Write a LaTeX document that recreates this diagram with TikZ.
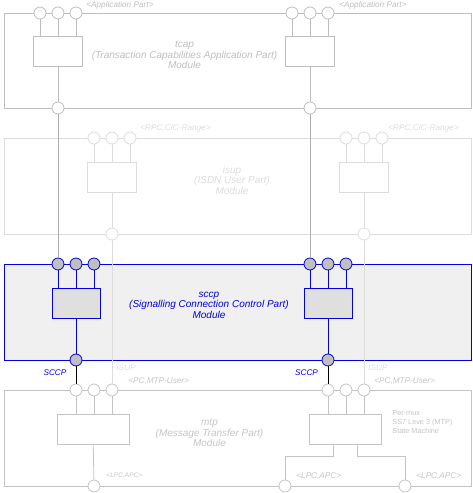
\documentclass[tikz,border=0pt]{standalone}
\usepackage{fontspec}
\setmainfont{Liberation Sans}
\definecolor{tcapc}{HTML}{BEBEBE}
\definecolor{isupc}{HTML}{DCDCDC}
\definecolor{mtpc}{HTML}{C4C4C4}
\definecolor{linkc}{HTML}{ADADAD}
\definecolor{sccpc}{HTML}{0000E6}
\definecolor{sccpfill}{HTML}{F0F0F0}
\definecolor{sccpbox}{HTML}{DFDFDF}
\definecolor{sccpport}{HTML}{C0C0C0}
\tikzset{
  modbox/.style={draw, rectangle, minimum width=467pt, inner sep=0pt},
  inbox/.style={draw, rectangle, minimum height=30pt, inner sep=0pt},
  port/.style={draw, circle, minimum size=12pt, inner sep=0pt, fill=white},
  modtext/.style={font=\fontsize{10}{10.5}\selectfont\itshape, align=center},
  lbl/.style={font=\fontsize{8.2}{9}\selectfont\itshape, anchor=west, inner sep=0pt},
}
\begin{document}
\begin{tikzpicture}[x=1pt,y=-1pt, line width=0.8pt]
\useasboundingbox (0,0) rectangle (472,493);
% ---------- modules ----------
\node[modbox, draw=tcapc, minimum height=95pt] (tcap) at (237.5,60.5) {};
\node[modbox, draw=isupc, minimum height=96pt] (isup) at (237.5,186) {};
\node[modbox, draw=sccpc, fill=sccpfill, minimum height=96pt] (sccp) at (237.5,312) {};
\node[modbox, draw=mtpc, minimum height=96pt] (mtp) at (237.5,438) {};
% ---------- module texts ----------
\node[modtext, text=tcapc] (tcapt) at (184.5,55) {tcap\\(Transaction Capabilities Application Part)\\Module};
\node[modtext, text=isupc] (isupt) at (232,180) {isup\\(ISDN User Part)\\Module};
\node[modtext, text=sccpc] (sccpt) at (209,305) {sccp\\(Signalling Connection Control Part)\\Module};
\node[modtext, text=mtpc] (mtpt) at (209.5,433) {mtp\\(Message Transfer Part)\\Module};
\node[font=\fontsize{7.3}{8.6}\selectfont, align=left, text=mtpc, anchor=west, inner sep=0pt] (mtpsm) at (392,422) {Per-mux\\SS7 Leve 3 (MTP)\\State Machine};
% ---------- inner boxes ----------
\node[inbox, draw=tcapc, minimum width=49pt] (tb1) at (58,51) {};
\node[inbox, draw=tcapc, minimum width=49pt] (tb2) at (310,51) {};
\node[inbox, draw=isupc, minimum width=49pt] (ib1) at (112,177) {};
\node[inbox, draw=isupc, minimum width=49pt] (ib2) at (364,177) {};
\node[inbox, draw=sccpc, fill=sccpbox, minimum width=48pt] (sb1) at (76,303) {};
\node[inbox, draw=sccpc, fill=sccpbox, minimum width=48pt] (sb2) at (328,303) {};
\node[inbox, draw=mtpc, minimum width=72pt] (mb1) at (93,429) {};
\node[inbox, draw=mtpc, minimum width=72pt] (mb2) at (345,429) {};
% ---------- internal wiring ----------
\begin{scope}[draw=tcapc]
\foreach \x in {40,58,76} \draw (\x,13) -- (\x,36);
\foreach \x in {292,310,328} \draw (\x,13) -- (\x,36);
\end{scope}
% ---------- ports ----------
\foreach \n/\x in {a/40,b/58,c/76,d/292,e/310,f/328} \node[port, draw=tcapc] (tt\n) at (\x,13) {};
\foreach \n/\x in {a/58,b/310} \node[port, draw=tcapc] (tu\n) at (\x,108) {};
\foreach \n/\x in {a/94,b/112,c/130,d/346,e/364,f/382} \node[port, draw=isupc] (it\n) at (\x,138) {};
\foreach \n/\x in {a/112,b/364} \node[port, draw=isupc] (iu\n) at (\x,234) {};
\foreach \n/\x in {a/58,b/76,c/94,d/310,e/328,f/346} \node[port, draw=sccpc, fill=sccpport] (st\n) at (\x,264) {};
\foreach \n/\x in {a/76,b/328} \node[port, draw=sccpc, fill=sccpport] (su\n) at (\x,360) {};
\foreach \n/\x in {a/76,b/94,c/112,d/328,e/346,f/364} \node[port, draw=mtpc] (mt\n) at (\x,390) {};
\foreach \n/\x in {a/94,b/285,c/405} \node[port, draw=mtpc] (mu\n) at (\x,486) {};
% ---------- port-to-box wiring ----------
\begin{scope}[draw=isupc]
\foreach \n in {a,b,c} \draw (it\n) -- (it\n |- ib1.north);
\foreach \n in {d,e,f} \draw (it\n) -- (it\n |- ib2.north);
\draw (ib1) -- (iua); \draw (ib2) -- (iub);
\end{scope}
\begin{scope}[draw=tcapc]
\draw (tb1) -- (tua); \draw (tb2) -- (tub);
\end{scope}
\begin{scope}[draw=sccpc]
\foreach \n in {a,b,c} \draw (st\n) -- (st\n |- sb1.north);
\foreach \n in {d,e,f} \draw (st\n) -- (st\n |- sb2.north);
\draw (sb1) -- (sua); \draw (sb2) -- (sub);
\end{scope}
\begin{scope}[draw=mtpc]
\foreach \n in {a,b,c} \draw (mt\n) -- (mt\n |- mb1.north);
\foreach \n in {d,e,f} \draw (mt\n) -- (mt\n |- mb2.north);
\draw (mb1) -- (mua);
\draw ([xshift=-12pt]mb2.south) -- ++(0,12) -| (mub);
\draw ([xshift=12pt]mb2.south) -- ++(0,12) -| (muc);
\end{scope}
% ---------- inter-module connectors ----------
\draw[draw=linkc] (tua) -- (sta);
\draw[draw=linkc] (tub) -- (std);
\draw[draw=isupc] (iua) -- (mtc);
\draw[draw=isupc] (iub) -- (mtf);
\draw[draw=black] (sua) -- (mta);
\draw[draw=black] (sub) -- (mtd);
% ---------- labels ----------
\node[lbl, text=tcapc] (l1) at (86,5) {<Application Part>};
\node[lbl, text=tcapc] (l2) at (339,5) {<Application Part>};
\node[lbl, text=isupc] (l3) at (140,128) {<RPC,CIC-Range>};
\node[lbl, text=isupc] (l4) at (388,128) {<RPC,CIC-Range>};
\node[lbl, text=sccpc, anchor=center] (l5) at (55,373) {SCCP};
\node[lbl, text=sccpc, anchor=center] (l6) at (306.5,373) {SCCP};
\node[lbl, text=isupc] (l7) at (116,368) {ISUP};
\node[lbl, text=isupc] (l8) at (368,368) {ISUP};
\node[lbl, text=mtpc] (l9) at (128,381) {<PC,MTP-User>};
\node[lbl, text=mtpc] (l10) at (374,381) {<PC,MTP-User>};
\node[lbl, text=mtpc, font=\fontsize{6.6}{8}\selectfont\itshape] (l11) at (106,476) {<LPC,APC>};
\node[lbl, text=mtpc] (l12) at (296,476) {<LPC,APC>};
\node[lbl, text=mtpc] (l13) at (416,476) {<LPC,APC>};
\end{tikzpicture}
\end{document}
